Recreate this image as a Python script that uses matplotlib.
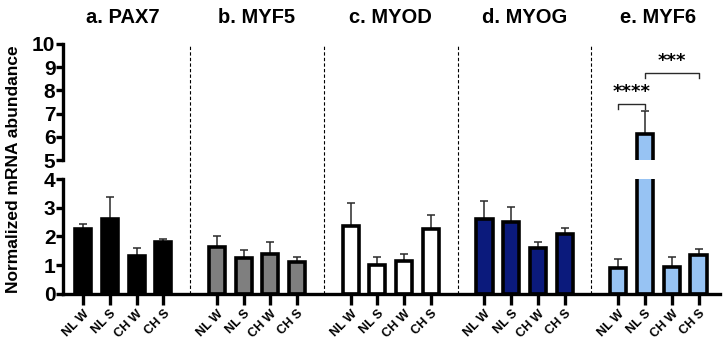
import matplotlib
matplotlib.use('Agg')
import matplotlib.pyplot as plt
import matplotlib.transforms as mtransforms
import numpy as np

plt.rcParams['font.family'] = ['Liberation Sans', 'DejaVu Sans']

genes = ['a. PAX7', 'b. MYF5', 'c. MYOD', 'd. MYOG', 'e. MYF6']
groups = ['NL W', 'NL S', 'CH W', 'CH S']
colors = ['#000000', '#7f7f7f', '#ffffff', '#0b1a7c', '#97c3f3']

means = [
    [2.25, 2.60, 1.32, 1.80],
    [1.62, 1.25, 1.38, 1.12],
    [2.38, 1.00, 1.15, 2.27],
    [2.60, 2.50, 1.60, 2.10],
    [0.90, 6.12, 0.94, 1.36],
]
errs = [
    [0.20, 0.78, 0.28, 0.10],
    [0.41, 0.27, 0.42, 0.16],
    [0.77, 0.30, 0.23, 0.48],
    [0.62, 0.53, 0.21, 0.19],
    [0.30, 0.99, 0.35, 0.20],
]

# significance in e. MYF6: (bar i, bar j, label)
sig = [(0, 1, '****'), (1, 3, '***')]
sig_y = [7.41, 8.75]

fig = plt.figure(figsize=(7.25, 3.49), dpi=100)
ax_top = fig.add_axes([0.087, 0.5415, 0.906, 0.3325])
ax_bot = fig.add_axes([0.087, 0.1576, 0.906, 0.3295])

lw = 2.4
xs_all = []
labels_all = []
for g in range(len(genes)):
    xs = np.arange(4) + 5 * g
    xs_all += list(xs)
    labels_all += groups
    for ax in (ax_top, ax_bot):
        ax.bar(xs, means[g], width=0.6, color=colors[g], edgecolor='black',
               linewidth=2.6, zorder=2)
        ax.errorbar(xs, means[g], yerr=[np.zeros(4), errs[g]], fmt='none',
                    ecolor='#2a2a2a', elinewidth=1.1, capsize=3.2,
                    capthick=1.1, zorder=1)

ax_top.set_ylim(5, 10)
ax_bot.set_ylim(0, 4)
for ax in (ax_top, ax_bot):
    ax.set_xlim(-0.75, 23.8)
    ax.spines['top'].set_visible(False)
    ax.spines['right'].set_visible(False)
    ax.spines['left'].set_linewidth(lw)
    ax.spines['bottom'].set_linewidth(lw)
    ax.tick_params(axis='y', width=lw, length=5, pad=0.5)

ax_top.spines['bottom'].set_visible(False)
ax_top.set_xticks([])
ax_top.set_yticks(range(5, 11))
ax_top.set_yticklabels([str(v) for v in range(5, 11)], fontsize=15,
                       fontweight='bold')
ax_bot.set_yticks(range(0, 5))
ax_bot.set_yticklabels([str(v) for v in range(0, 5)], fontsize=15,
                       fontweight='bold')
ax_bot.set_xticks(xs_all)
ax_bot.set_xticklabels(labels_all, rotation=45, ha='right',
                       rotation_mode='anchor', fontsize=9, fontweight='bold')
ax_bot.tick_params(axis='x', width=lw, length=8, pad=2)

# dashed separators between genes, spanning both panels
top_val = 8.70
for g in range(1, len(genes)):
    xsep = 5 * g - 1
    ax_bot.plot([xsep, xsep], [0, top_val], color='black', linewidth=0.8,
                linestyle=(0, (3, 2)), clip_on=False, zorder=0)

# gene titles
trans = mtransforms.blended_transform_factory(ax_top.transData, fig.transFigure)
for g, name in enumerate(genes):
    ax_top.text(5 * g + 1.5, 0.951, name, transform=trans, ha='center',
                va='center', fontsize=14.5, fontweight='bold')

# significance brackets
base = 5 * 4
for (i, j, lab), y in zip(sig, sig_y):
    x1, x2 = base + i, base + j
    ax_top.plot([x1, x1, x2, x2], [y - 0.2, y, y, y - 0.2], color='#2a2a2a',
                linewidth=1.0, clip_on=False)
    ax_top.text((x1 + x2) / 2, y + 0.5, lab, ha='center', va='center',
                fontsize=13, fontweight='bold', family='DejaVu Sans')

fig.text(0.018, 0.515, 'Normalized mRNA abundance', rotation=90,
         ha='center', va='center', fontsize=12.5, fontweight='bold')

fig.savefig('out.png', dpi=100)
